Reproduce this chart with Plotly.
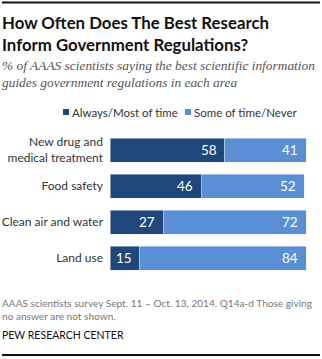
import plotly.graph_objects as go

categories = ["New drug and<br>medical treatment", "Food safety", "Clean air and water", "Land use"]
always_most = [58, 46, 27, 15]
some_never = [41, 52, 72, 84]
series_names = ["Always/Most of time", "Some of time/Never"]

DARK = "#1f477a"
LIGHT = "#5a8fd6"
SANS = "Lato"
W, H = 322, 359
L, R, T, B = 110, 14, 132, 83
PW, PH = W - L - R, H - T - B


def px(x):
    return (x - L) / PW


def py(y):
    return 1 - (y - T) / PH


fig = go.Figure()
fig.add_trace(go.Bar(y=categories, x=always_most, orientation="h", name=series_names[0],
                     marker_color=DARK, showlegend=False))
fig.add_trace(go.Bar(y=categories, x=some_never, orientation="h", name=series_names[1],
                     marker_color=LIGHT, showlegend=False))

# value labels inside the right end of each segment
for cat, a, s in zip(categories, always_most, some_never):
    fig.add_annotation(x=a, y=cat, text=str(a), xanchor="right", showarrow=False,
                       xshift=-6, font=dict(color="white", size=13.5, family=SANS))
    fig.add_annotation(x=a + s, y=cat, text=str(s), xanchor="right", showarrow=False,
                       xshift=-6, font=dict(color="white", size=13.5, family=SANS))

# legend
leg_y = 112
for (name, color, sx) in [(series_names[0], DARK, 63), (series_names[1], LIGHT, 185)]:
    fig.add_shape(type="rect", xref="paper", yref="paper",
                  x0=px(sx), x1=px(sx + 6), y0=py(leg_y + 3), y1=py(leg_y - 3),
                  fillcolor=color, line_width=0)
    fig.add_annotation(xref="paper", yref="paper", x=px(sx + 7), y=py(leg_y), text=name,
                       xanchor="left", yanchor="middle", showarrow=False,
                       font=dict(size=11.5, color="#333", family=SANS))

# title and subtitle
fig.add_annotation(xref="paper", yref="paper", x=px(0), y=py(33), text=
                   "How Often Does The Best Research<br>Inform Government Regulations?",
                   xanchor="left", yanchor="middle", align="left", showarrow=False,
                   font=dict(size=16.8, color="#111", family=SANS, weight="bold"))
fig.add_annotation(xref="paper", yref="paper", x=px(0), y=py(74), text=
                   "<i>% of AAAS scientists saying the best scientific information<br>"
                   "guides government regulations in each area</i>",
                   xanchor="left", yanchor="middle", align="left", showarrow=False,
                   font=dict(size=13.4, color="#555", family="Liberation Serif"))

# footer
fig.add_annotation(xref="paper", yref="paper", x=px(0), y=py(309), text=
                   "AAAS scientists survey Sept. 11 – Oct. 13, 2014. Q14a-d Those giving<br>"
                   "no answer are not shown.",
                   xanchor="left", yanchor="middle", align="left", showarrow=False,
                   font=dict(size=10.1, color="#777", family=SANS))
fig.add_annotation(xref="paper", yref="paper", x=px(0), y=py(335), text="PEW RESEARCH CENTER",
                   xanchor="left", yanchor="middle", showarrow=False,
                   font=dict(size=10.5, color="#111", family=SANS))

# rule lines at top and bottom
for yy in (2.5, 355):
    fig.add_shape(type="line", xref="paper", yref="paper", x0=px(2), x1=px(320),
                  y0=py(yy), y1=py(yy), line=dict(color="#111", width=2))

fig.update_layout(
    width=W, height=H, barmode="stack", bargap=1 / 3,
    margin=dict(l=L, r=R, t=T, b=B, pad=0),
    plot_bgcolor="white", paper_bgcolor="white",
    xaxis=dict(range=[0, 100], visible=False, fixedrange=True),
    yaxis=dict(autorange="reversed", showgrid=False, zeroline=False, showline=False,
               automargin=False, ticks="", ticklabelstandoff=6,
               tickfont=dict(size=12, color="#333", family=SANS), fixedrange=True),
    showlegend=False,
)
fig.write_html("out.html", config={"displayModeBar": False})
